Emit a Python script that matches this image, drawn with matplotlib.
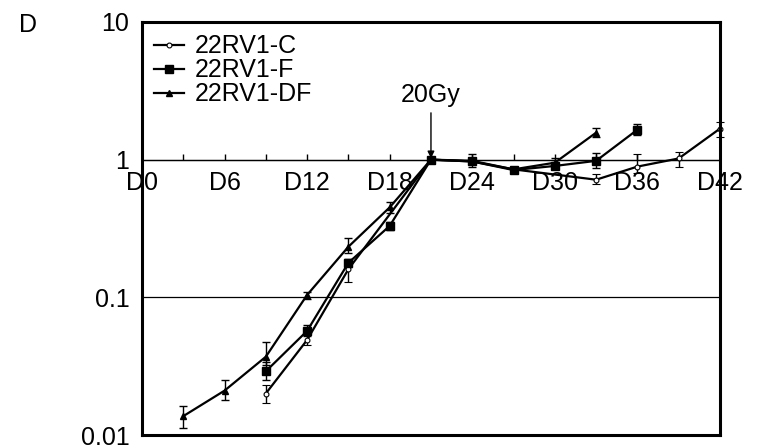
#!/usr/bin/env python3
"""
Growth curves of 22RV1 lines, relative to the irradiation day (panel D).
"""

import matplotlib
matplotlib.use("Agg")
import matplotlib.pyplot as plt
from matplotlib.ticker import FixedLocator, NullLocator

plt.rcParams['font.family'] = ['Liberation Sans', 'DejaVu Sans']

# --- data ---------------------------------------------------------------
days_c = [9, 12, 15, 21, 24, 27, 33, 36, 39, 42]
mean_c = [0.020, 0.049, 0.16, 1.0, 0.97, 0.85, 0.715, 0.89, 1.02, 1.68]
low_c = [0.017, 0.045, 0.13, 0.95, 0.93, 0.82, 0.67, 0.80, 0.89, 1.47]
high_c = [0.023, 0.054, 0.19, 1.05, 1.01, 0.88, 0.78, 1.09, 1.14, 1.89]

days_f = [9, 12, 15, 18, 21, 24, 27, 30, 33, 36]
mean_f = [0.029, 0.057, 0.178, 0.33, 1.0, 0.97, 0.84, 0.90, 0.98, 1.65]
low_f = [0.025, 0.052, 0.165, 0.31, 0.95, 0.89, 0.81, 0.86, 0.87, 1.52]
high_f = [0.034, 0.063, 0.19, 0.35, 1.05, 1.10, 0.87, 0.94, 1.12, 1.80]

days_df = [3, 6, 9, 12, 15, 18, 21, 24, 27, 30, 33]
mean_df = [0.0137, 0.021, 0.037, 0.104, 0.233, 0.45, 1.0, 0.98, 0.85, 0.95, 1.57]
low_df = [0.0112, 0.018, 0.032, 0.097, 0.21, 0.41, 0.95, 0.93, 0.82, 0.90, 1.47]
high_df = [0.0162, 0.025, 0.047, 0.11, 0.27, 0.49, 1.05, 1.03, 0.88, 1.02, 1.71]

labels = ['22RV1-C', '22RV1-F', '22RV1-DF']
day_ticks = list(range(0, 43, 6))
day_minor = list(range(0, 43, 3))
y_ticks = [0.01, 0.1, 1, 10]
y_labels = ['0.01', '0.1', '1', '10']
irradiation_day = 21
dose_label = '20Gy'


def errs(mean, low, high):
    return [[m - lo for m, lo in zip(mean, low)],
            [hi - m for m, hi in zip(mean, high)]]


def main() -> None:
    fig = plt.figure(figsize=(7.59, 4.48), dpi=100)
    ax = fig.add_axes([0.187, 0.029, 0.7616, 0.922])

    fs = 18
    series = [
        (days_c, mean_c, low_c, high_c,
         dict(marker='o', ms=3.5, mfc='white', mec='k', mew=0.8)),
        (days_f, mean_f, low_f, high_f,
         dict(marker='s', ms=6, mfc='k', mec='k')),
        (days_df, mean_df, low_df, high_df,
         dict(marker='^', ms=4.5, mfc='k', mec='k')),
    ]
    handles = []
    for (d, m, lo, hi, style), lab in zip(series, labels):
        cont = ax.errorbar(d, m, yerr=errs(m, lo, hi), color='k', lw=1.6,
                           elinewidth=1.0, capsize=3, capthick=1.0,
                           label=lab, clip_on=False, **style)
        handles.append(cont.lines[0])

    ax.set_yscale('log')
    ax.set_ylim(0.01, 10)
    ax.set_xlim(0, 42)
    ax.yaxis.set_major_locator(FixedLocator(y_ticks))
    ax.yaxis.set_minor_locator(NullLocator())
    ax.set_yticklabels(y_labels)
    ax.tick_params(axis='y', length=0, pad=9, labelsize=fs)
    ax.yaxis.grid(True, color='k', lw=0.9)
    ax.set_xticks([])
    for sp in ax.spines.values():
        sp.set_linewidth(2.2)

    # day axis sits on the y = 1 line
    sec = ax.secondary_xaxis(2 / 3)
    sec.set_alignment('bottom')
    sec.xaxis.set_major_locator(FixedLocator(day_ticks))
    sec.xaxis.set_minor_locator(FixedLocator(day_minor))
    sec.set_xticklabels([f'D{d}' for d in day_ticks])
    sec.tick_params(which='both', direction='in', length=4, width=1.0,
                    labelsize=fs, pad=8)
    sec.spines['bottom'].set_linewidth(0.9)

    ax.annotate(dose_label, xy=(irradiation_day, 1.0),
                xytext=(irradiation_day, 2.4), ha='center', va='bottom',
                fontsize=fs,
                arrowprops=dict(arrowstyle='-|>', color='k', lw=1.0,
                                shrinkA=2, shrinkB=1, mutation_scale=10))

    ax.legend(handles, labels, loc='upper left', frameon=False, fontsize=fs,
              handlelength=1.2, handletextpad=0.4, labelspacing=0.0,
              borderaxespad=0.2, borderpad=0.3)

    fig.text(0.037, 0.945, 'D', fontsize=fs, ha='center', va='center')

    fig.savefig('out.png', dpi=100)


if __name__ == '__main__':
    main()
